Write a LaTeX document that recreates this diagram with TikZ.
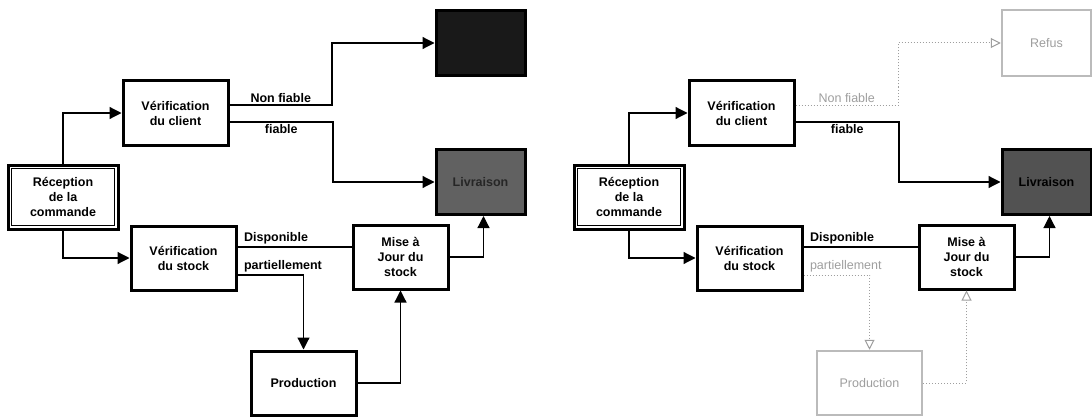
\documentclass[tikz,border=0pt]{standalone}
\usepackage{fontspec}
\setmainfont{Liberation Sans}
\usepackage{tikz}
\usetikzlibrary{calc}
\usetikzlibrary{arrows.meta}
\usepackage{xcolor}
\definecolor{pale}{rgb}{0.62,0.62,0.62}
\definecolor{shade}{rgb}{0.38,0.38,0.38}

\begin{document}
\begin{tikzpicture}[x=1pt, y=1pt,
	pb/.style = {rectangle, draw=black,	fill=white,	line width=3pt, minimum width=105pt, minimum height=64pt, align=center, font=\fontsize{12.5}{15}\selectfont\bfseries},
	db/.style = {pb, fill=shade, minimum width=89pt, minimum height=65pt},
	gb/.style = {pb, draw=pale!70, line width=2.5pt, text=pale, font=\fontsize{12.5}{15}\selectfont},
	r/.style = {-{Triangle[length=12pt, width=12pt]}, line width=1.2pt},
	ln/.style = {line width=1.2pt},
	gr/.style = {-{Triangle[open, length=10pt, width=10pt]}, dotted, line width=1pt, draw=pale},
	lb/.style = {font=\fontsize{12.5}{15}\selectfont\bfseries, inner sep=2pt},
	gl/.style = {font=\fontsize{12.5}{15}\selectfont, text=pale, inner sep=2pt}
	]
	\useasboundingbox (0, 0) rectangle (1092, 416);
	
	% === === Nodes (left) === ===
	\node[pb, minimum width=110pt]	(recL)	at	(63, 219)	{Réception\\de la\\commande};
	\draw[thin]	($(recL.north west)+(5,-5)$)	rectangle	($(recL.south east)+(-5,5)$);
	\node[pb]	(vclL)	at	(175.5, 303)	{Vérification\\du client};
	\node[pb]	(vstL)	at	(183.5, 158)	{Vérification\\du stock};
	\node[db, fill=black!90]	(refL)	at	(480.5, 373)	{};
	\node[db, text=black!85]	(livL)	at	(480.5, 234)	{Livraison};
	\node[pb, minimum width=95pt]	(majL)	at	(400.5, 159)	{Mise à\\Jour du\\stock};
	\node[pb]	(proL)	at	(303.5, 33)	{Production};
	
	% === === Lines (left) === ===
	\draw[r]	(recL.north)	|-	(vclL.west);
	\draw[r]	(recL.south)	|-	(vstL.west);
	\draw[r]	([yshift=8pt]vclL.east)	-|	node[lb, pos=0.25, above]	{Non fiable}	(332, 340)	|-	(refL.west);
	\draw[r]	([yshift=-9pt]vclL.east)	-|	node[lb, pos=0.25, below]	{fiable}	(333, 260)	|-	(livL.west);
	\draw[ln]	([yshift=11pt]vstL.east)	--	node[lb, pos=0, above right, xshift=4pt]	{Disponible}	([yshift=10pt]majL.west);
	\draw[r]	([yshift=-17pt]vstL.east)	-|	node[lb, pos=0, above right, xshift=4pt]	{partiellement}	(proL.north);
	\draw[r]	(proL.east)	-|	(majL.south);
	\draw[r]	(majL.east)	-|	([xshift=3pt]livL.south);
	
	\begin{scope}[xshift=566pt]
	% === === Nodes (right) === ===
	\node[pb, minimum width=110pt]	(recR)	at	(63, 219)	{Réception\\de la\\commande};
	\draw[thin]	($(recR.north west)+(5,-5)$)	rectangle	($(recR.south east)+(-5,5)$);
	\node[pb]	(vclR)	at	(175.5, 303)	{Vérification\\du client};
	\node[pb]	(vstR)	at	(183.5, 158)	{Vérification\\du stock};
	\node[gb, minimum width=89pt, minimum height=66pt]	(refR)	at	(480.5, 373)	{Refus};
	\node[db, fill=black!68]	(livR)	at	(480.5, 234)	{Livraison};
	\node[pb, minimum width=95pt]	(majR)	at	(400.5, 159)	{Mise à\\Jour du\\stock};
	\node[gb]	(proR)	at	(303.5, 33)	{Production};
	
	% === === Lines (right) === ===
	\draw[r]	(recR.north)	|-	(vclR.west);
	\draw[r]	(recR.south)	|-	(vstR.west);
	\draw[gr]	([yshift=8pt]vclR.east)	-|	node[gl, pos=0.25, above]	{Non fiable}	(332, 340)	|-	(refR.west);
	\draw[r]	([yshift=-9pt]vclR.east)	-|	node[lb, pos=0.25, below]	{fiable}	(333, 260)	|-	(livR.west);
	\draw[ln]	([yshift=11pt]vstR.east)	--	node[lb, pos=0, above right, xshift=4pt]	{Disponible}	([yshift=10pt]majR.west);
	\draw[gr]	([yshift=-17pt]vstR.east)	-|	node[gl, pos=0, above right, xshift=4pt]	{partiellement}	(proR.north);
	\draw[gr]	(proR.east)	-|	(majR.south);
	\draw[r]	(majR.east)	-|	([xshift=3pt]livR.south);
	\end{scope}
	
\end{tikzpicture}
\end{document}
